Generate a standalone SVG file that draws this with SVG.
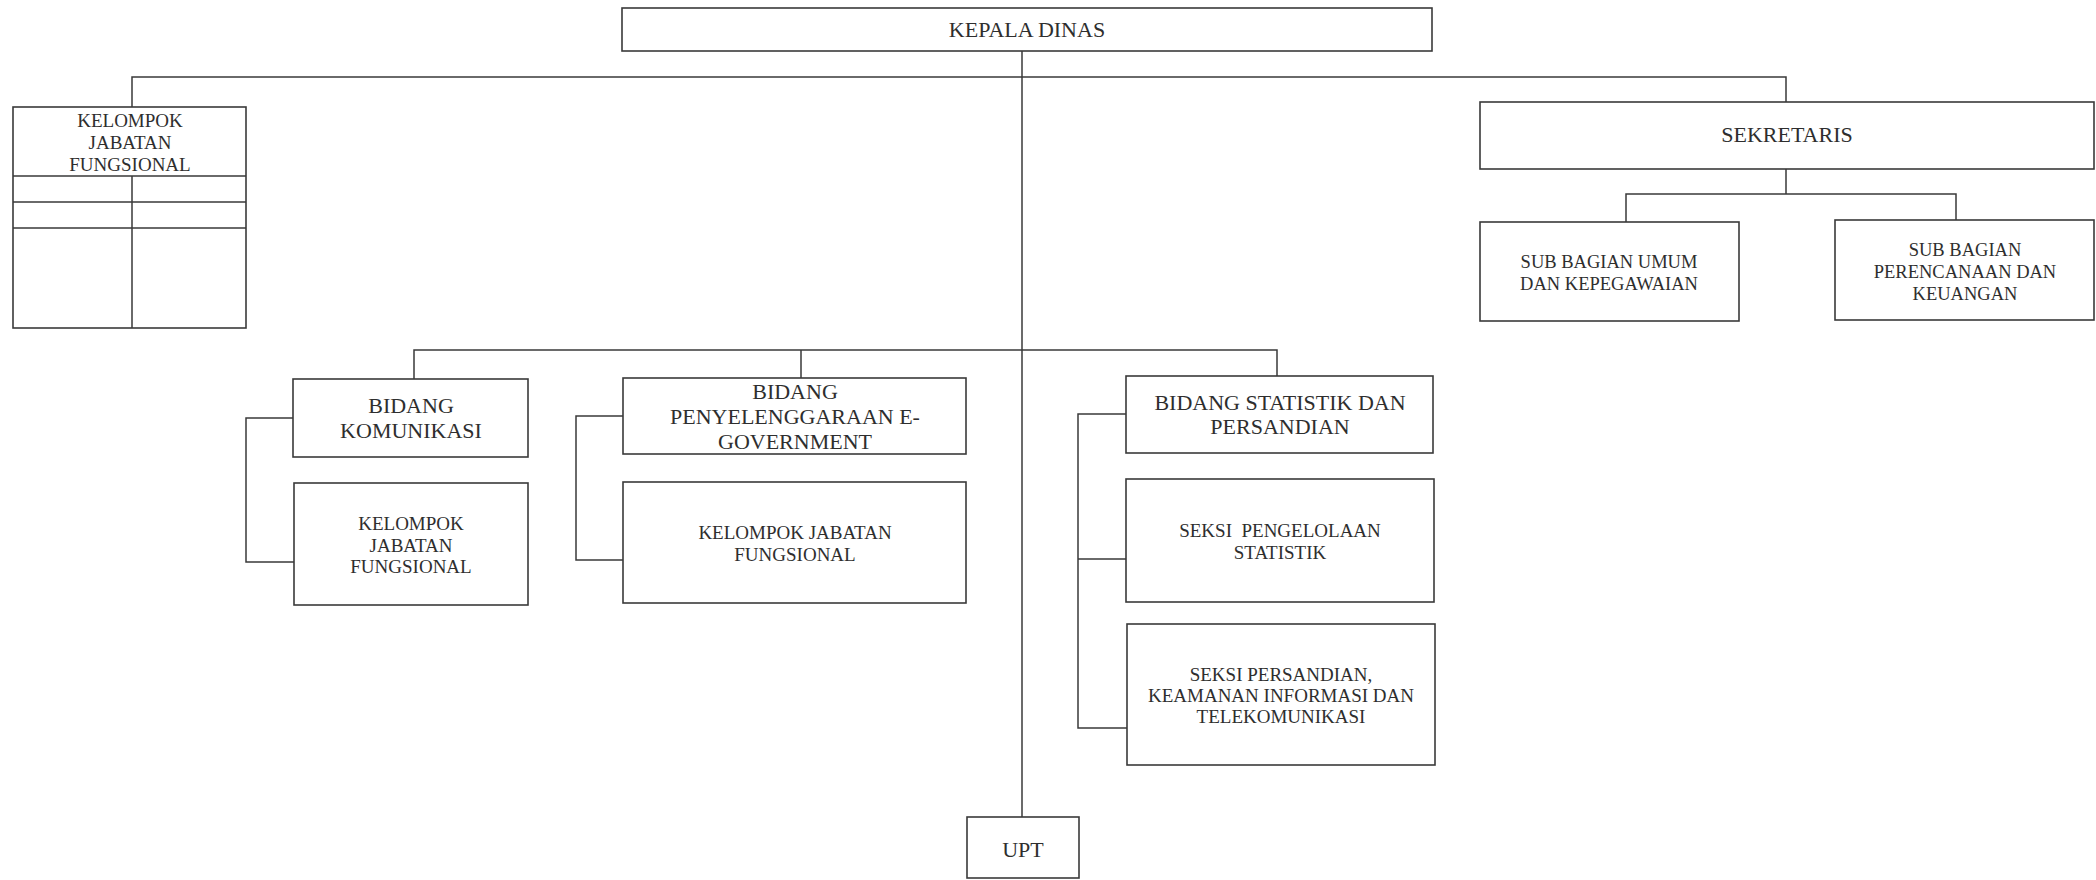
<svg xmlns="http://www.w3.org/2000/svg" width="2096" height="880" viewBox="0 0 2096 880">
<style>
.box{fill:#fff;stroke:#3a3a3a;stroke-width:1.6}
.ln{fill:none;stroke:#3a3a3a;stroke-width:1.5}
text{font-family:"Liberation Serif","Times New Roman",serif;fill:#2e2e2e;text-anchor:middle}
.lg{font-size:22px}
.sm{font-size:19px}
.xs{font-size:18.5px}
</style>
<rect width="2096" height="880" fill="#fff"/>
<g id="connectors">
<path class="ln" d="M1022 51 V817"/>
<path class="ln" d="M132 107 V77 H1786 V102"/>
<path class="ln" d="M1786 169 V194 M1626 222 V194 H1956 V220"/>
<path class="ln" d="M414 379 V350 H1277 V376 M801 378 V350"/>
<path class="ln" d="M293 418 H246 V562 H294"/>
<path class="ln" d="M623 416 H576 V560 H623"/>
<path class="ln" d="M1126 414 H1078 V728 H1127 M1078 559 H1126"/>
</g>
<g id="kepala-dinas">
<rect class="box" x="622" y="8" width="810" height="43"/>
<text class="lg" x="1027" y="37">KEPALA DINAS</text>
</g>
<g id="kelompok-jabatan-fungsional-top">
<rect class="box" x="13" y="107" width="233" height="221"/>
<path class="ln" d="M13 176 H246 M13 202 H246 M13 228 H246 M132 176 V328"/>
<text class="sm" x="130" y="127">KELOMPOK</text>
<text class="sm" x="130" y="149">JABATAN</text>
<text class="sm" x="130" y="171">FUNGSIONAL</text>
</g>
<g id="sekretaris">
<rect class="box" x="1480" y="102" width="614" height="67"/>
<text class="lg" x="1787" y="142">SEKRETARIS</text>
</g>
<g id="sub-bagian-umum">
<rect class="box" x="1480" y="222" width="259" height="99"/>
<text class="xs" x="1609" y="268">SUB BAGIAN UMUM</text>
<text class="xs" x="1609" y="290">DAN KEPEGAWAIAN</text>
</g>
<g id="sub-bagian-perencanaan">
<rect class="box" x="1835" y="220" width="259" height="100"/>
<text class="xs" x="1965" y="256">SUB BAGIAN</text>
<text class="xs" x="1965" y="278">PERENCANAAN DAN</text>
<text class="xs" x="1965" y="300">KEUANGAN</text>
</g>
<g id="bidang-komunikasi">
<rect class="box" x="293" y="379" width="235" height="78"/>
<text class="lg" x="411" y="413">BIDANG</text>
<text class="lg" x="411" y="438">KOMUNIKASI</text>
</g>
<g id="kelompok-komunikasi">
<rect class="box" x="294" y="483" width="234" height="122"/>
<text class="sm" x="411" y="530">KELOMPOK</text>
<text class="sm" x="411" y="552">JABATAN</text>
<text class="sm" x="411" y="573">FUNGSIONAL</text>
</g>
<g id="bidang-egov">
<rect class="box" x="623" y="378" width="343" height="76"/>
<text class="lg" x="795" y="399">BIDANG</text>
<text class="lg" x="795" y="424">PENYELENGGARAAN E-</text>
<text class="lg" x="795" y="449">GOVERNMENT</text>
</g>
<g id="kelompok-egov">
<rect class="box" x="623" y="482" width="343" height="121"/>
<text class="sm" x="795" y="539">KELOMPOK JABATAN</text>
<text class="sm" x="795" y="561">FUNGSIONAL</text>
</g>
<g id="bidang-statistik">
<rect class="box" x="1126" y="376" width="307" height="77"/>
<text class="lg" x="1280" y="410">BIDANG STATISTIK DAN</text>
<text class="lg" x="1280" y="434">PERSANDIAN</text>
</g>
<g id="seksi-statistik">
<rect class="box" x="1126" y="479" width="308" height="123"/>
<text class="sm" x="1280" y="537" xml:space="preserve">SEKSI  PENGELOLAAN</text>
<text class="sm" x="1280" y="559">STATISTIK</text>
</g>
<g id="seksi-persandian">
<rect class="box" x="1127" y="624" width="308" height="141"/>
<text class="sm" x="1281" y="681">SEKSI PERSANDIAN,</text>
<text class="sm" x="1281" y="702">KEAMANAN INFORMASI DAN</text>
<text class="sm" x="1281" y="723">TELEKOMUNIKASI</text>
</g>
<g id="upt">
<rect class="box" x="967" y="817" width="112" height="61"/>
<text class="lg" x="1023" y="857">UPT</text>
</g>
</svg>
